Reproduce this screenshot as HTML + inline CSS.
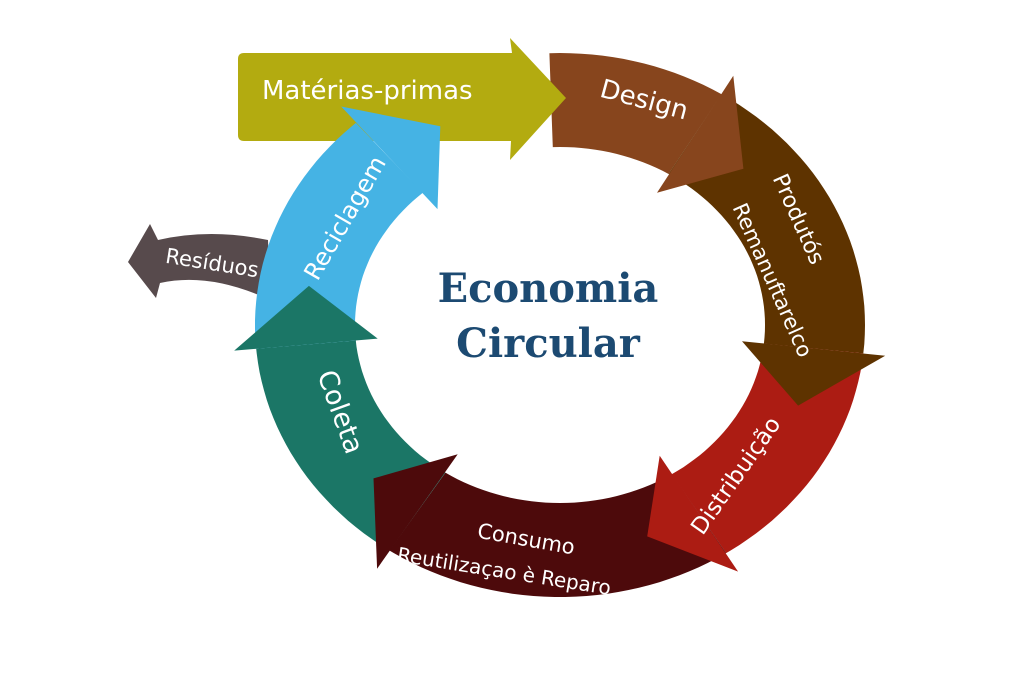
<!DOCTYPE html>
<html><head><meta charset="utf-8">
<style>
html,body{margin:0;padding:0;background:#fff;}
svg{display:block;}
.l{font-family:"DejaVu Sans","Liberation Sans",sans-serif;fill:#fff;}
</style></head>
<body>
<svg id="s" width="1024" height="683" viewBox="0 0 1024 683" xmlns="http://www.w3.org/2000/svg">
<g id="g"></g>
<text x="548" y="302" text-anchor="middle" font-family="'DejaVu Serif','Liberation Serif',serif" font-weight="bold" font-size="40" fill="#1c4a72">Economia</text>
<text x="548" y="357" text-anchor="middle" font-family="'DejaVu Serif','Liberation Serif',serif" font-weight="bold" font-size="40" fill="#1c4a72">Circular</text>
<text class="l" x="262" y="99" font-size="26">Matérias-primas</text>
<text class="l" font-size="26" text-anchor="middle" transform="translate(642,108) rotate(15)">Design</text>
<text class="l" font-size="22" text-anchor="middle" transform="translate(792,222) rotate(66)">Produtós</text>
<text class="l" font-size="21" text-anchor="middle" transform="translate(766,283) rotate(66)">Remanuftarelco</text>
<text class="l" font-size="23" text-anchor="middle" transform="translate(742,480) rotate(-55)">Distribuição</text>
<text class="l" font-size="21" text-anchor="middle" transform="translate(525,546) rotate(10)">Consumo</text>
<text class="l" font-size="20" text-anchor="middle" transform="translate(503,578) rotate(9)">Reutilizaçao è Reparo</text>
<text class="l" font-size="27" text-anchor="middle" transform="translate(332,415) rotate(70)">Coleta</text>
<text class="l" font-size="24" text-anchor="middle" transform="translate(352,222) rotate(-60)">Reciclagem</text>
<text class="l" font-size="21" text-anchor="middle" transform="translate(211,270) rotate(9)">Resíduos</text>
</svg>
<script>
var cx=560,cy=325,ro=[305,272],ri=[205,178],rm=[255,225];
function P(r,t,e){var a=t*Math.PI/180;return [(cx+(r[0]+(e||0))*Math.cos(a)).toFixed(1),(cy+(r[1]+(e||0))*Math.sin(a)).toFixed(1)].join(',');}
function body(a0,a1){var s='M'+P(ro,a0);for(var t=a0;t<=a1;t+=2)s+=' L'+P(ro,t);s+=' L'+P(ro,a1);for(var t=a1;t>=a0;t-=2)s+=' L'+P(ri,t);s+=' L'+P(ri,a0)+'Z';return s;}
function head(ab,at){return 'M'+P(ro,ab,22)+' L'+P(rm,at)+' L'+P(ri,ab,-22)+'Z';}
var segs=[
 ['#87451d',-92,-58,-44],
 ['#5e3300',-58,6,21],
 ['#ac1c13',6,57,70],
 ['#4d0a0b',57,124,137],
 ['#1b7666',124,175,190],
 ['#45b3e4',175,228,242]
];
var g=document.getElementById('g'),h='';
h+='<path d="M268,240 Q210,228 158,240 L150,224 L128,262 L156,298 L160,283 Q210,272 270,300 Z" fill="#574a4c"/>';
h+='<path d="'+body(segs[0][1],segs[0][2])+'" fill="'+segs[0][0]+'"/>';
h+='<path d="M244,53 L512,53 L510,38 L566,98 L510,160 L511,141 L244,141 Q238,141 238,135 L238,59 Q238,53 244,53 Z" fill="#b3ab10"/>';
for(var i=1;i<segs.length;i++)h+='<path d="'+body(segs[i][1],segs[i][2])+'" fill="'+segs[i][0]+'"/>';
for(var i=0;i<segs.length;i++)h+='<path d="'+head(segs[i][2],segs[i][3])+'" fill="'+segs[i][0]+'"/>';
g.innerHTML=h;
</script>
</body></html>
